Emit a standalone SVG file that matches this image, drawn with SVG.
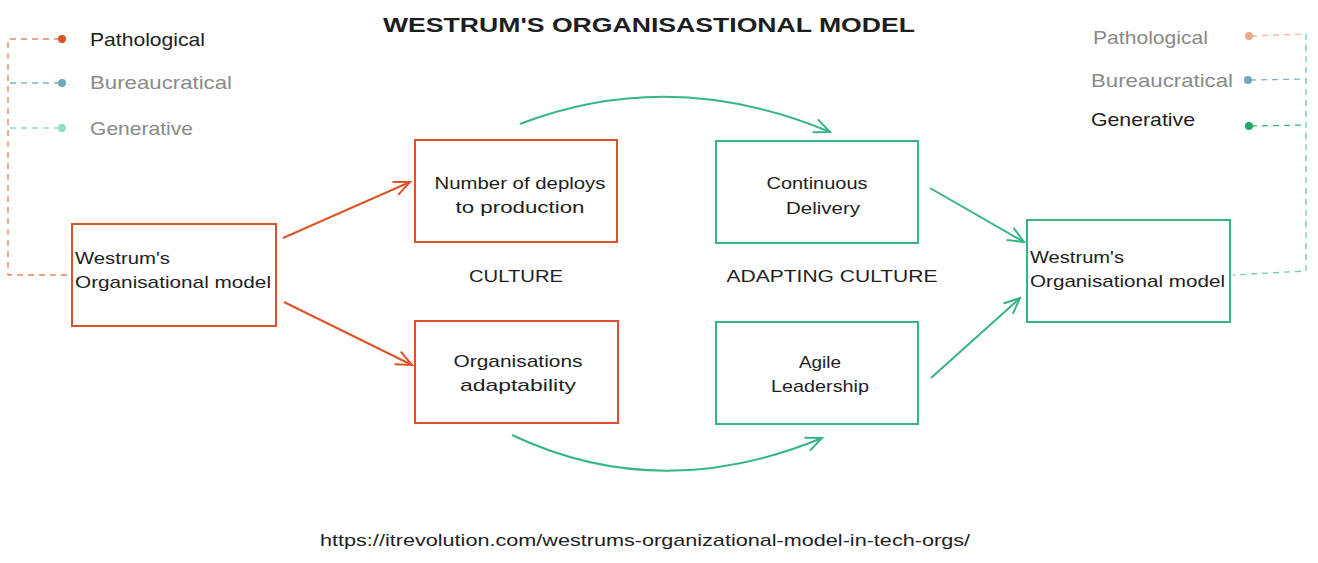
<svg xmlns="http://www.w3.org/2000/svg" width="1318" height="563" viewBox="0 0 1318 563">
<style>
  .bg{fill:#ffffff}
  .t{font-family:"Liberation Sans",Arial,sans-serif;font-size:17px;fill:#1e1e1e}
  .title{font-family:"Liberation Sans",Arial,sans-serif;font-size:21px;font-weight:bold;fill:#1e1e1e}
  .lg{font-family:"Liberation Sans",Arial,sans-serif;font-size:19px}
  .blk{fill:#1e1e1e}
  .gry{fill:#8a8a8a}
  .bo{fill:none;stroke:#dc5426;stroke-width:2}
  .bg2{fill:none;stroke:#35b584;stroke-width:2}
  .ao{fill:none;stroke:#dc5426;stroke-width:2}
  .ag{fill:none;stroke:#35b584;stroke-width:2}
  .d{fill:none;stroke-width:1.3;stroke-dasharray:6 5}
</style>
<defs>
  <marker id="mo" markerUnits="userSpaceOnUse" markerWidth="20" markerHeight="20" refX="18" refY="10" orient="auto" viewBox="0 0 20 20">
    <path d="M2,3 L18,10 L2,17" fill="none" stroke="#dc5426" stroke-width="2"/>
  </marker>
  <marker id="mg" markerUnits="userSpaceOnUse" markerWidth="20" markerHeight="20" refX="18" refY="10" orient="auto" viewBox="0 0 20 20">
    <path d="M2,3 L18,10 L2,17" fill="none" stroke="#35b584" stroke-width="2"/>
  </marker>
</defs>
<rect class="bg" x="0" y="0" width="1318" height="563"/>

<text class="title" x="649" y="32" text-anchor="middle" textLength="532" lengthAdjust="spacingAndGlyphs">WESTRUM'S ORGANISASTIONAL MODEL</text>

<g id="legend-left">
  <path class="d" stroke="#e8825e" d="M60,39 L8,39 L8,275 L72,275"/>
  <path class="d" stroke="#7fb2c2" d="M60,83 L8,83"/>
  <path class="d" stroke="#8fdcc4" d="M60,128 L8,128"/>
  <circle cx="62" cy="39" r="4" fill="#dc5426"/>
  <circle cx="62" cy="83" r="4" fill="#6ea8b8"/>
  <circle cx="62" cy="128" r="4" fill="#8fdcc4"/>
  <text class="lg blk" x="90" y="46" textLength="115" lengthAdjust="spacingAndGlyphs">Pathological</text>
  <text class="lg gry" x="90" y="89" textLength="142" lengthAdjust="spacingAndGlyphs">Bureaucratical</text>
  <text class="lg gry" x="90" y="135" textLength="103" lengthAdjust="spacingAndGlyphs">Generative</text>
</g>

<g id="legend-right">
  <path class="d" stroke="#f2b4a0" d="M1251,36 L1306,34"/>
  <path class="d" stroke="#7fb2c2" d="M1250,80 L1306,79"/>
  <path class="d" stroke="#35b584" d="M1251,126 L1306,125"/>
  <path class="d" stroke="#6fcca8" d="M1306,34 L1306,271 L1233,275"/>
  <circle cx="1249" cy="36" r="4" fill="#eea98c"/>
  <circle cx="1248" cy="80" r="4" fill="#6ea8b8"/>
  <circle cx="1249" cy="126" r="4" fill="#1faa6c"/>
  <text class="lg gry" x="1093" y="44" textLength="115" lengthAdjust="spacingAndGlyphs">Pathological</text>
  <text class="lg gry" x="1091" y="87" textLength="142" lengthAdjust="spacingAndGlyphs">Bureaucratical</text>
  <text class="lg blk" x="1091" y="126" textLength="104" lengthAdjust="spacingAndGlyphs">Generative</text>
</g>

<g id="connectors">
  <path class="ao" d="M283,238 L410,182" marker-end="url(#mo)"/>
  <path class="ao" d="M284,302 L412,365" marker-end="url(#mo)"/>
  <path class="ag" d="M520,124 Q672,66 830,132" marker-end="url(#mg)"/>
  <path class="ag" d="M512,435 Q660,505 822,438" marker-end="url(#mg)"/>
  <path class="ag" d="M930,188 L1024,242" marker-end="url(#mg)"/>
  <path class="ag" d="M931,378 L1020,298" marker-end="url(#mg)"/>
</g>

<g id="node-westrum-left">
  <rect class="bo" x="72" y="224" width="204" height="102"/>
  <text class="t" x="75" y="264" textLength="95" lengthAdjust="spacingAndGlyphs">Westrum's</text>
  <text class="t" x="75" y="288" textLength="196" lengthAdjust="spacingAndGlyphs">Organisational model</text>
</g>

<g id="node-deploys">
  <rect class="bo" x="415" y="140" width="202" height="102"/>
  <text class="t" x="520" y="189" text-anchor="middle" textLength="171" lengthAdjust="spacingAndGlyphs">Number of deploys</text>
  <text class="t" x="520" y="213" text-anchor="middle" textLength="129" lengthAdjust="spacingAndGlyphs">to production</text>
</g>

<g id="node-adaptability">
  <rect class="bo" x="415" y="321" width="203" height="102"/>
  <text class="t" x="518" y="367" text-anchor="middle" textLength="129" lengthAdjust="spacingAndGlyphs">Organisations</text>
  <text class="t" x="518" y="391" text-anchor="middle" textLength="116" lengthAdjust="spacingAndGlyphs">adaptability</text>
</g>

<g id="node-cd">
  <rect class="bg2" x="716" y="141" width="202" height="102"/>
  <text class="t" x="817" y="189" text-anchor="middle" textLength="101" lengthAdjust="spacingAndGlyphs">Continuous</text>
  <text class="t" x="823" y="214" text-anchor="middle" textLength="74" lengthAdjust="spacingAndGlyphs">Delivery</text>
</g>

<g id="node-agile">
  <rect class="bg2" x="716" y="322" width="202" height="102"/>
  <text class="t" x="820" y="368" text-anchor="middle" textLength="42" lengthAdjust="spacingAndGlyphs">Agile</text>
  <text class="t" x="820" y="392" text-anchor="middle" textLength="98" lengthAdjust="spacingAndGlyphs">Leadership</text>
</g>

<g id="node-westrum-right">
  <rect class="bg2" x="1027" y="220" width="203" height="102"/>
  <text class="t" x="1030" y="263" textLength="94" lengthAdjust="spacingAndGlyphs">Westrum's</text>
  <text class="t" x="1030" y="287" textLength="195" lengthAdjust="spacingAndGlyphs">Organisational model</text>
</g>

<g id="labels">
  <text class="t" x="516" y="282" text-anchor="middle" textLength="94" lengthAdjust="spacingAndGlyphs">CULTURE</text>
  <text class="t" x="832" y="282" text-anchor="middle" textLength="211" lengthAdjust="spacingAndGlyphs">ADAPTING CULTURE</text>
  <text class="t" x="645" y="546" text-anchor="middle" textLength="650" lengthAdjust="spacingAndGlyphs">https://itrevolution.com/westrums-organizational-model-in-tech-orgs/</text>
</g>
</svg>
